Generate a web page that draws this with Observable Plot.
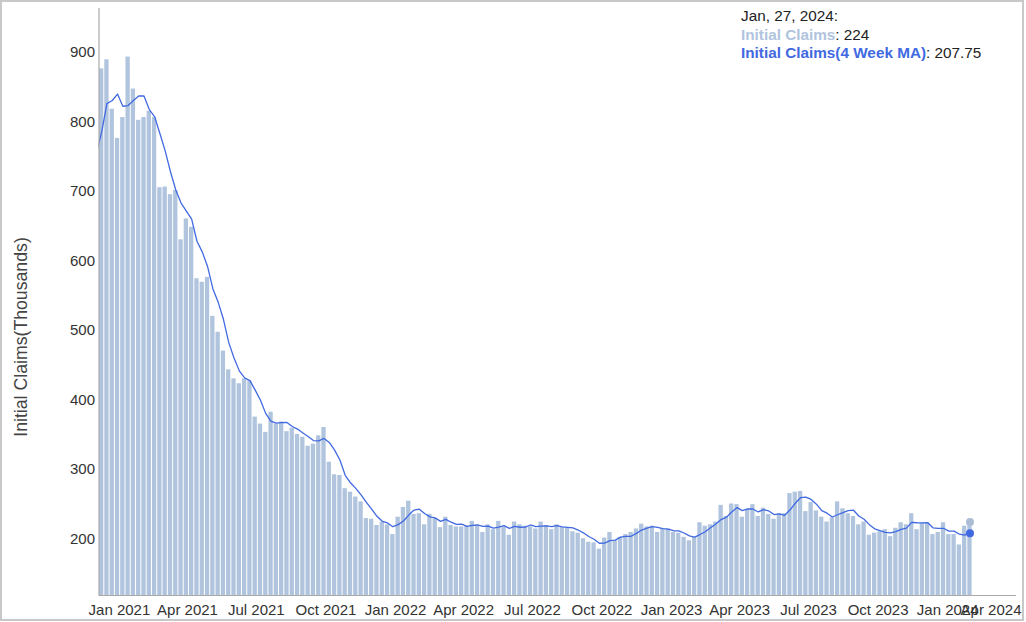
<!DOCTYPE html>
<html><head><meta charset="utf-8">
<script src="https://cdn.jsdelivr.net/npm/d3@7"></script>
<script src="https://cdn.jsdelivr.net/npm/@observablehq/plot@0.6"></script>
<style>
body{margin:0;background:#fff;}
#wrap{position:relative;width:1026px;height:622px;overflow:hidden;font-family:"Liberation Sans",Arial,sans-serif;background:#fff;}
#chart{position:absolute;left:0;top:0;}
#border{position:absolute;left:0;top:0;width:1024px;height:621px;box-sizing:border-box;border:2px solid #c8c8c8;pointer-events:none;}
#tip{position:absolute;left:741px;top:7.4px;font-size:15.3px;line-height:18.5px;color:#222;white-space:nowrap;}
</style></head><body>
<div id="wrap"><div id="chart"></div><div id="tip"></div><div id="border"></div></div>
<script>
// ---- data (weekly initial claims, thousands; week ending Saturday) ----
const firstWeek = "2020-12-05";
const priorClaims = [725, 800, 739]; // three weeks before the first bar (feed the 4-week MA only)
const claims = [
  876, 889, 818, 776, 806, 893, 847, 802, 806, 815, 806, 705, 706, 695, 701, 630, 660, 648, 574, 569,
  576, 520, 497, 470, 443, 430, 423, 430, 427, 375, 365, 353, 382, 365, 368, 354, 359, 350, 346, 333,
  336, 348, 360, 310, 292, 291, 272, 267, 260, 253, 229, 228, 219, 224, 220, 206, 231, 245, 254, 235,
  236, 220, 235, 229, 216, 231, 219, 217, 217, 218, 225, 219, 209, 220, 213, 225, 217, 205, 224, 220,
  218, 217, 214, 224, 219, 213, 220, 216, 216, 210, 208, 200, 195, 194, 185, 201, 209, 197, 202, 206,
  209, 214, 221, 217, 218, 209, 214, 214, 209, 208, 202, 197, 202, 223, 218, 220, 224, 248, 232, 250,
  249, 231, 242, 249, 232, 244, 235, 228, 236, 236, 265, 267, 268, 239, 252, 240, 231, 224, 230, 253,
  243, 236, 232, 220, 224, 205, 208, 210, 213, 203, 215, 223, 220, 236, 213, 222, 222, 206, 209, 223,
  206, 206, 191, 218, 224
];
const xTickLabels = ["Jan 2021","Apr 2021","Jul 2021","Oct 2021","Jan 2022","Apr 2022","Jul 2022","Oct 2022",
                     "Jan 2023","Apr 2023","Jul 2023","Oct 2023","Jan 2024","Apr 2024"];
const firstTick = "2021-01-01";
const lastTick = "2024-04-01";
const yTicks = [200, 300, 400, 500, 600, 700, 800, 900];
const yTitle = "Initial Claims(Thousands)";
const tipDate = "Jan, 27, 2024:";
const seriesNames = ["Initial Claims", "Initial Claims(4 Week MA)"];
const latestClaims = 224;
const latestMA = 207.75;

// ---- build tables ----
const start = new Date(firstWeek + "T00:00:00Z");
const all = priorClaims.concat(claims).map((v, i) => {
  const date = d3.utcDay.offset(start, (i - priorClaims.length) * 7);
  return {date, end: d3.utcDay.offset(date, 7), mid: new Date(+date + 3.5 * 864e5), value: v, shown: i >= priorClaims.length};
});
const bars = all.filter(d => d.shown);
const last = bars[bars.length - 1];
const xTicks = d3.utcMonth.every(3).range(new Date(firstTick + "T00:00:00Z"), d3.utcDay.offset(new Date(lastTick + "T00:00:00Z"), 1));
const xDomain = [start, new Date(lastTick + "T00:00:00Z")];
const yDomain = [118.3, 962.9];

const chart = Plot.plot({
  width: 1026, height: 622,
  marginLeft: 98.5, marginRight: 10, marginTop: 8, marginBottom: 27,
  style: {fontFamily: "'Liberation Sans', Arial, sans-serif", background: "transparent", color: "#333"},
  x: {type: "utc", domain: xDomain, axis: null},
  y: {domain: yDomain, axis: null},
  marks: [
    Plot.rectY(bars, {x1: "date", x2: "end", y: "value", fill: "#b0c4de", insetLeft: 0.5, insetRight: 0.5, clip: true}),
    Plot.line(all, Plot.windowY({k: 4, anchor: "end"}, {x: "mid", y: "value", stroke: "#4169e1", strokeWidth: 1.3, clip: true})),
    Plot.ruleX([xDomain[0]], {stroke: "#aaa", strokeWidth: 1.2}),
    Plot.ruleY([yDomain[0]], {stroke: "#aaa", strokeWidth: 1.2}),
    Plot.axisY({ticks: yTicks, tickSize: 0, tickPadding: 4, fontSize: 15, label: null, fill: "#333"}),
    Plot.text(xTicks.slice(0, -1), {x: d => d, text: (d, i) => xTickLabels[i], frameAnchor: "bottom", lineAnchor: "middle", dy: 15, fontSize: 15, fill: "#333"}),
    Plot.text(xTicks.slice(-1), {x: d => d, text: () => xTickLabels[xTickLabels.length - 1], frameAnchor: "bottom", lineAnchor: "middle", dy: 15, dx: 5, textAnchor: "end", fontSize: 15, fill: "#333"}),
    Plot.text([yTitle], {frameAnchor: "left", textAnchor: "middle", lineAnchor: "middle", rotate: -90, dx: -77.5, dy: 35, fontSize: 17.7, fill: "#444", text: d => d}),
    Plot.dot([latestClaims], {x: () => last.mid, y: d => d, r: 4, fill: "#abbdd5"}),
    Plot.dot([latestMA], {x: () => last.mid, y: d => d, r: 4, fill: "#4169e1"})
  ]
});
document.getElementById("chart").appendChild(chart);

const tip = document.getElementById("tip");
tip.innerHTML =
  `<div>${tipDate}</div>` +
  `<div><b style="color:#b0c4de">${seriesNames[0]}</b>: ${latestClaims}</div>` +
  `<div><b style="color:#4169e1">${seriesNames[1]}</b>: ${latestMA}</div>`;
</script>
</body></html>
